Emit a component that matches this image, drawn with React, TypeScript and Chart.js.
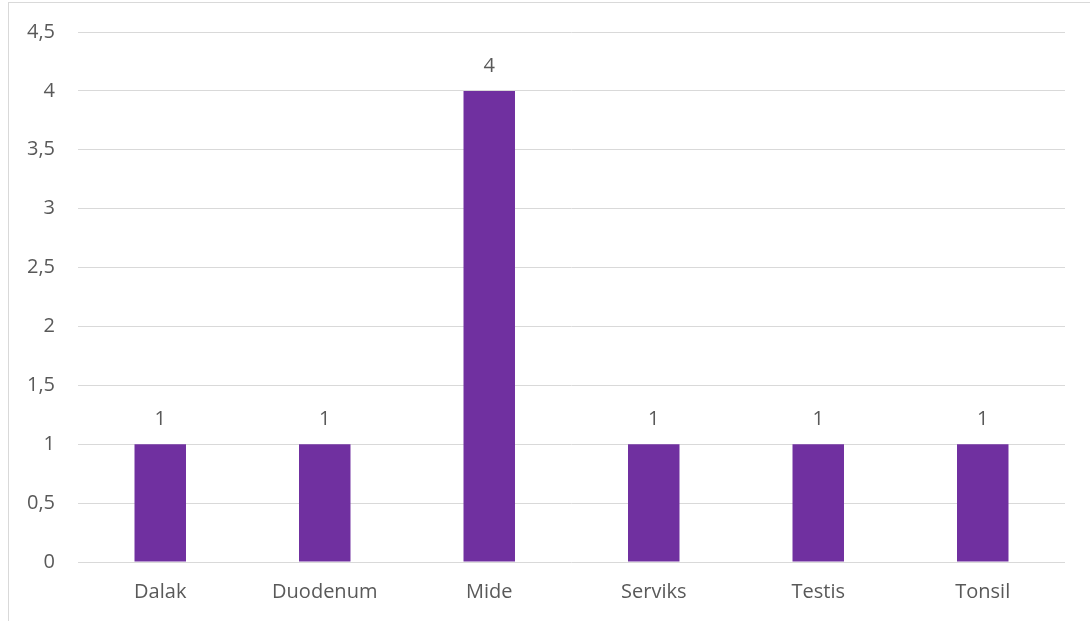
import React, { useEffect, useRef } from "react";
import { Chart, registerables } from "chart.js";

Chart.register(...registerables);

const categories = ["Dalak", "Duodenum", "Mide", "Serviks", "Testis", "Tonsil"];
const values = [1, 1, 4, 1, 1, 1];
const yMin = 0;
const yMax = 4.5;
const yStep = 0.5;

const FONT = "'Open Sans', sans-serif";
const TEXT = "#595959";
const GRID = "#d9d9d9";
const BAR = "#7030A0";
const FS = 20;

const valueLabels = {
  id: "valueLabels",
  afterDatasetsDraw(chart: any) {
    const ctx = chart.ctx;
    ctx.save();
    ctx.font = `${FS}px ${FONT}`;
    ctx.fillStyle = TEXT;
    ctx.textAlign = "center";
    ctx.textBaseline = "middle";
    chart.data.datasets.forEach((ds: any, i: number) => {
      const meta = chart.getDatasetMeta(i);
      meta.data.forEach((el: any, j: number) => {
        ctx.fillText(String(ds.data[j]).replace(".", ","), el.x, el.y - 25);
      });
    });
    ctx.restore();
  },
};

export default function App() {
  const ref = useRef<HTMLCanvasElement>(null);
  useEffect(() => {
    const chart = new Chart(ref.current!, {
      type: "bar",
      data: {
        labels: categories,
        datasets: [
          {
            data: values,
            backgroundColor: BAR,
            barPercentage: 0.313,
            categoryPercentage: 1,
          },
        ],
      },
      options: {
        animation: false,
        responsive: false,
        maintainAspectRatio: false,
        layout: { padding: { top: 29, right: 44, left: 0, bottom: 0 } },
        plugins: { legend: { display: false }, tooltip: { enabled: false } },
        scales: {
          x: {
            grid: { display: false, drawTicks: false },
            border: { display: false },
            ticks: { color: TEXT, font: { family: FONT, size: FS }, padding: 18, maxRotation: 0 },
            afterFit: (s: any) => {
              s.height = 81;
            },
          },
          y: {
            min: yMin,
            max: yMax,
            grid: { color: GRID, lineWidth: 1, drawTicks: false },
            border: { display: false },
            ticks: {
              stepSize: yStep,
              color: TEXT,
              font: { family: FONT, size: FS },
              padding: 23,
              callback: (v: any) => String(v).replace(".", ","),
            },
            afterFit: (s: any) => {
              s.width = 69;
              s.paddingTop = 0;
            },
          },
        },
      },
      plugins: [valueLabels],
    });
    return () => chart.destroy();
  }, []);
  return (
    <div style={{ position: "fixed", inset: 0, overflow: "hidden", background: "#fff" }}>
      <div
        style={{
          position: "absolute",
          left: 8,
          top: 2,
          width: 1100,
          height: 640,
          border: `1px solid ${GRID}`,
        }}
      >
        <canvas ref={ref} width={1100} height={640} style={{ display: "block" }} />
      </div>
    </div>
  );
}
